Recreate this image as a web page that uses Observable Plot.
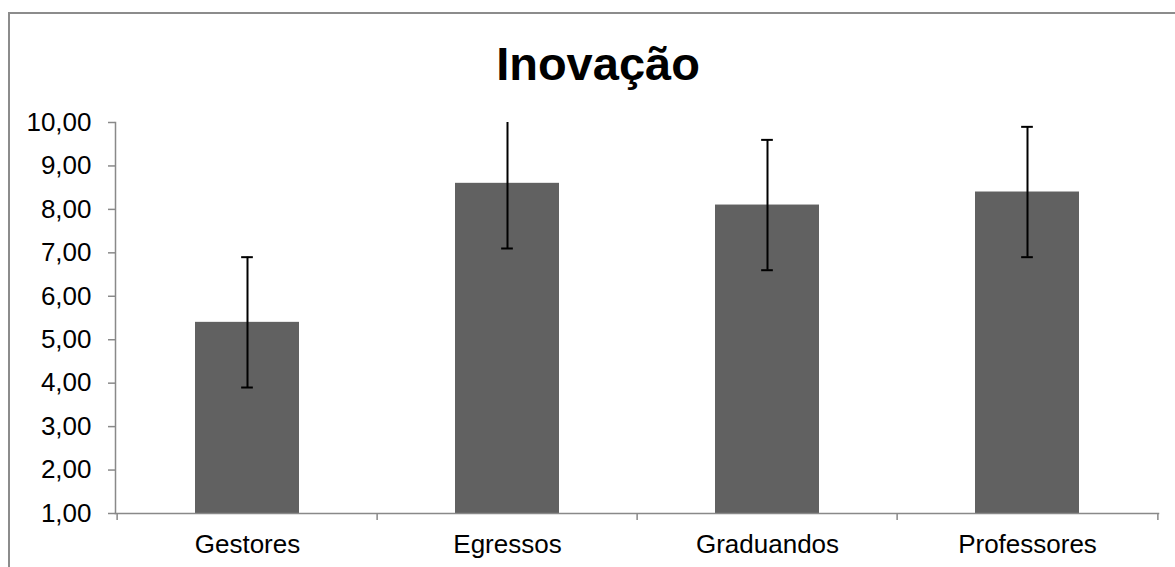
<!DOCTYPE html>
<html>
<head>
<meta charset="utf-8">
<script src="https://cdn.jsdelivr.net/npm/d3@7"></script>
<script src="https://cdn.jsdelivr.net/npm/@observablehq/plot@0.6"></script>
<style>
  html, body { margin: 0; padding: 0; background: #fff; overflow: hidden; }
  #wrap { position: relative; width: 1175px; height: 567px; overflow: hidden; font-family: "Liberation Sans", Arial, sans-serif; }
  #frame { position: absolute; left: 8px; top: 12px; width: 1400px; height: 800px; border: 2px solid #8c8c8c; box-sizing: border-box; }
  #title { position: absolute; left: 0; top: 40px; width: 1196px; text-align: center; font-size: 47px; line-height: 47px; font-weight: bold; color: #000; }
  #chart { position: absolute; left: 0; top: 100px; }
</style>
</head>
<body>
<div id="wrap">
  <div id="frame"></div>
  <div id="title">Inovação</div>
  <div id="chart"></div>
</div>
<script>
const categories = ["Gestores", "Egressos", "Graduandos", "Professores"];
const means = [5.4, 8.6, 8.1, 8.4];
const errors = [1.5, 1.5, 1.5, 1.5];
const yTicks = [1, 2, 3, 4, 5, 6, 7, 8, 9, 10];

const data = categories.map((c, i) => ({cat: c, mean: means[i], lo: means[i] - errors[i], hi: means[i] + errors[i]}));

const W = 1175, H = 467, mL = 115, mR = 17, mT = 22, mB = 54;
const pInner = 0.6, pOuter = 0.3;
const step = (W - mL - mR) / (categories.length - pInner + 2 * pOuter);
const bandW = step * (1 - pInner);
const capW = 12;
const axisColor = "#898989";

const plot = Plot.plot({
  width: W, height: H,
  marginLeft: mL, marginRight: mR, marginTop: mT, marginBottom: mB,
  style: {fontFamily: "'Liberation Sans', Arial, sans-serif", fontSize: "26px", color: "#000", background: "transparent", overflow: "visible"},
  x: {domain: categories, paddingInner: pInner, paddingOuter: pOuter, label: null},
  y: {domain: [1, 10], label: null},
  marks: [
    Plot.barY(data, {x: "cat", y1: 1, y2: "mean", fill: "#616161"}),
    Plot.ruleX(data, {x: "cat", y1: "lo", y2: "hi", stroke: "#000", strokeWidth: 2, clip: true}),
    Plot.tickY(data, {x: "cat", y: "lo", stroke: "#000", strokeWidth: 2, insetLeft: (bandW - capW) / 2, insetRight: (bandW - capW) / 2, clip: true}),
    Plot.tickY(data, {x: "cat", y: "hi", stroke: "#000", strokeWidth: 2, insetLeft: (bandW - capW) / 2, insetRight: (bandW - capW) / 2, clip: true}),
    Plot.frame({anchor: "left", stroke: axisColor, strokeWidth: 1.5}),
    Plot.frame({anchor: "bottom", stroke: axisColor, strokeWidth: 1.5}),
    // category boundary ticks below the x axis
    Plot.ruleX(categories, {x: d => d, dx: -step / 2, y1: 1, y2: 1, insetBottom: -7, stroke: axisColor, strokeWidth: 1.5}),
    Plot.ruleX(categories.slice(-1), {x: d => d, dx: step / 2, y1: 1, y2: 1, insetBottom: -7, stroke: axisColor, strokeWidth: 1.5}),
    Plot.axisY({ticks: yTicks, tickFormat: d => d.toFixed(2).replace(".", ","), tickSize: 7, tickPadding: 17, stroke: axisColor, strokeWidth: 1.5, fill: "#000", fontSize: 26}),
    Plot.axisX({tickSize: 0, tickPadding: 21.5, fill: "#000", fontSize: 26})
  ]
});
document.getElementById("chart").appendChild(plot);
</script>
</body>
</html>
